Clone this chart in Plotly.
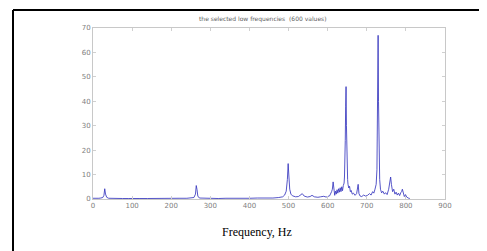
import plotly.graph_objects as go

# Spectrum samples (Hz, amplitude)
freq = [0, 5, 10, 15, 20, 25, 28, 30, 32, 35, 40, 50, 60, 75, 90, 105, 120, 140, 160,
        180, 200, 220, 240, 250, 258, 262, 264, 266, 268, 272, 285, 300, 320, 340, 360,
        380, 400, 420, 440, 460, 475, 485, 490, 494, 497, 499, 501, 503, 506, 510, 518,
        525, 532, 535, 540, 548, 555, 560, 566, 575, 582, 590, 596, 600, 605, 610, 612,
        614, 616, 618, 620, 622, 624, 626, 628, 630, 632, 634, 636, 638, 640, 642, 643,
        644, 645, 646, 647, 648, 649, 650, 651, 652, 654, 656, 658, 660, 663, 666, 670,
        674, 676, 678, 680, 683, 687, 692, 697, 702, 707, 711, 715, 718, 721, 724, 726,
        727, 728, 729, 730, 731, 733, 735, 738, 741, 745, 748, 752, 756, 759, 761, 763,
        766, 769, 772, 775, 778, 781, 784, 787, 789, 791, 793, 796, 799, 802, 806, 810]
amplitude = [0.3, 0.2, 0.4, 0.3, 0.4, 0.6, 1.5, 4.2, 2.0, 0.7, 0.3, 0.2, 0.3, 0.2, 0.2,
             0.3, 0.2, 0.2, 0.3, 0.2, 0.2, 0.3, 0.3, 0.4, 0.6, 2.0, 5.5, 3.8, 1.2, 0.4,
             0.3, 0.2, 0.2, 0.3, 0.2, 0.3, 0.3, 0.4, 0.3, 0.4, 0.6, 0.9, 1.6, 3.2, 8.0,
             14.5, 9.0, 4.0, 2.0, 1.3, 0.9, 1.0, 1.8, 2.2, 1.2, 0.8, 1.0, 1.5, 0.9, 0.7,
             0.9, 1.1, 0.8, 1.0, 1.3, 3.0, 4.0, 7.0, 2.5, 1.5, 3.2, 2.0, 3.8, 2.4, 4.2,
             2.8, 4.6, 3.0, 5.0, 3.4, 5.5, 6.5, 9.0, 14.0, 24.0, 38.0, 46.0, 30.0, 18.0,
             12.0, 8.0, 6.0, 4.5, 5.2, 3.0, 3.5, 2.0, 2.4, 1.5, 2.2, 3.5, 6.0, 2.2, 1.2,
             1.0, 1.6, 1.2, 1.5, 2.2, 1.6, 3.0, 2.4, 4.0, 6.0, 12.0, 24.0, 50.0, 67.0,
             40.0, 16.0, 8.0, 4.0, 2.5, 3.2, 2.0, 2.6, 1.8, 4.0, 7.0, 9.0, 6.0, 3.0, 4.0,
             2.0, 2.8, 1.6, 2.4, 1.4, 2.6, 3.0, 4.0, 2.2, 1.0, 1.8, 0.8, 0.4, 0.2]

x_ticks = [0, 100, 200, 300, 400, 500, 600, 700, 800, 900]
y_ticks = [0, 10, 20, 30, 40, 50, 60, 70]

title_text = "the selected low frequencies  (600 values)"
xlabel_text = "Frequency, Hz"

fig = go.Figure()
fig.add_trace(go.Scatter(x=freq, y=amplitude, mode="lines",
                         line=dict(color="rgba(55,55,190,0.85)", width=1),
                         showlegend=False, hoverinfo="skip"))

axis_common = dict(showline=True, linecolor="#c8c8c8", linewidth=1, mirror="ticks",
                   ticks="inside", ticklen=3, tickcolor="#d0d0d0", showgrid=False,
                   zeroline=False, tickfont=dict(family="DejaVu Sans", size=7, color="#808080"))

fig.update_xaxes(range=[0, 900], tickvals=x_ticks, ticktext=[str(v) for v in x_ticks],
                 **axis_common)
fig.update_yaxes(range=[0, 70], tickvals=y_ticks, ticktext=[str(v) for v in y_ticks],
                 **axis_common)

# page offset from default body margin
OFF = 8
W, H = 487 - OFF, 251 - OFF
L, T = 93 - OFF, 28 - OFF
R = W - (445 - OFF)
B = H - (199 - OFF)
pw, ph = W - L - R, H - T - B

def px_x(p):
    return (p - OFF - L) / pw

def px_y(p):
    return 1 - (p - OFF - T) / ph

fig.update_layout(
    width=W, height=H,
    margin=dict(l=L, r=R, t=T, b=B),
    paper_bgcolor="white", plot_bgcolor="white",
    shapes=[
        dict(type="line", xref="paper", yref="paper", x0=px_x(13), x1=px_x(500),
             y0=px_y(10), y1=px_y(10), line=dict(color="black", width=2)),
        dict(type="line", xref="paper", yref="paper", x0=px_x(13), x1=px_x(13),
             y0=px_y(10), y1=px_y(260), line=dict(color="black", width=2)),
    ],
    annotations=[
        dict(text=title_text, xref="paper", yref="paper", x=px_x(263), y=px_y(19),
             showarrow=False, font=dict(family="DejaVu Sans", size=6, color="#606060"),
             xanchor="center", yanchor="middle"),
        dict(text=xlabel_text, xref="paper", yref="paper", x=px_x(257), y=px_y(232),
             showarrow=False, font=dict(family="Liberation Serif", size=12, color="black"),
             xanchor="center", yanchor="middle"),
    ],
)

fig.write_html("out.html")
